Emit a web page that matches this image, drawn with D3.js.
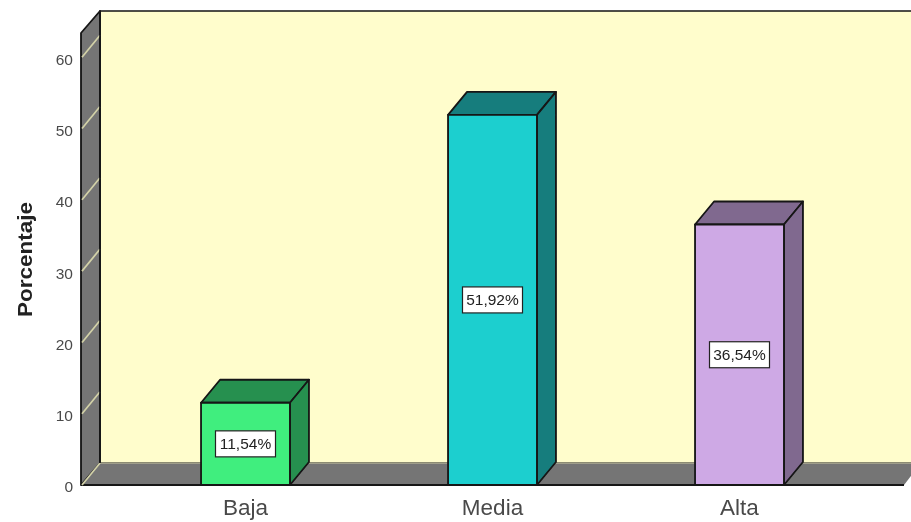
<!DOCTYPE html>
<html><head><meta charset="utf-8">
<style>html,body{margin:0;padding:0;background:#fff;overflow:hidden}svg{display:block}text{font-family:"Liberation Sans",Arial,sans-serif}</style>
<script src="https://cdn.jsdelivr.net/npm/d3@7"></script>
</head><body>
<script>
const categories = ["Baja","Media","Alta"];
const values = [11.54,51.92,36.54];
const valueLabels = ["11,54%","51,92%","36,54%"];
const frontColors = ["#40EE7E","#1BCFCF","#CEA9E5"];
const sideColors = ["#279050","#127D7D","#80698F"];
const yTicks = [0,10,20,30,40,50,60];
const yTitle = "Porcentaje";

const W=911,H=522, plotL=81, plotR=904, base=485, plotT=33, dx=19, dy=-22, barDy=-23;
const svg=d3.select("body").append("svg").attr("width",W).attr("height",H);
const f=svg.append("defs").append("filter").attr("id","soft").attr("x",0).attr("y",0).attr("width","100%").attr("height","100%");
f.append("feGaussianBlur").attr("stdDeviation",0.7);
const g=svg.append("g").attr("filter","url(#soft)");
g.append("rect").attr("width",W).attr("height",H).attr("fill","#fff");

const y=d3.scaleLinear().domain([0,63.4]).range([base,plotT]);
const x=d3.scaleBand().domain(categories).range([122,863]).paddingInner(0.64).paddingOuter(0.32);
const ink="#141414";
const poly=(pts,fill,sw=1.8)=>g.append("polygon").attr("points",pts.map(p=>p.join(",")).join(" "))
  .attr("fill",fill).attr("stroke",ink).attr("stroke-width",sw).attr("stroke-linejoin","round");

// back wall
g.append("rect").attr("x",plotL+dx).attr("y",plotT+dy).attr("width",W-plotL-dx+20).attr("height",base-plotT)
 .attr("fill","#FFFDCC").attr("stroke",ink).attr("stroke-width",1.5);
// left wall
poly([[plotL,base],[plotL,plotT],[plotL+dx,plotT+dy],[plotL+dx,base+dy]],"#757575");
// floor
g.append("polygon").attr("points",[[plotL,base],[plotL+dx,base+dy],[W+10,base+dy],[plotR,base]].map(p=>p.join(",")).join(" ")).attr("fill","#757575");
g.append("line").attr("x1",plotL).attr("x2",plotR).attr("y1",base).attr("y2",base).attr("stroke",ink).attr("stroke-width",2);
g.append("line").attr("x1",plotL+dx).attr("x2",W).attr("y1",base+dy).attr("y2",base+dy).attr("stroke","#c9c8a2").attr("stroke-width",1.2);
// grid ticks on left wall
g.selectAll("line.wt").data(yTicks).join("line").attr("class","wt")
 .attr("x1",plotL+1).attr("x2",plotL+dx).attr("y1",d=>y(d)).attr("y2",d=>y(d)+dy)
 .attr("stroke","#d3d2a8").attr("stroke-width",1.7);
g.append("line").attr("x1",plotL+dx).attr("x2",plotL+dx).attr("y1",plotT+dy).attr("y2",base+dy).attr("stroke",ink).attr("stroke-width",1.7);

// bars
categories.forEach((c,i)=>{
  const a=x(c), b=a+x.bandwidth(), t=y(values[i]);
  poly([[a,t],[a+dx,t+barDy],[b+dx,t+barDy],[b,t]],sideColors[i]);
  poly([[b,t],[b+dx,t+barDy],[b+dx,base+barDy],[b,base]],sideColors[i]);
  poly([[a,t],[b,t],[b,base],[a,base]],frontColors[i]);
  const cx=(a+b)/2, cy=(t+base)/2;
  g.append("rect").attr("x",cx-30).attr("y",cy-13).attr("width",60).attr("height",26)
    .attr("fill","#fff").attr("stroke","#222").attr("stroke-width",1.2);
  g.append("text").attr("x",cx).attr("y",cy+5.5).attr("text-anchor","middle").attr("font-size",15.5).attr("fill","#222").text(valueLabels[i]);
});

// axes
const ax=g.append("g").attr("transform",`translate(${plotL},2)`)
  .call(d3.axisLeft(y).tickValues(yTicks).tickSize(0).tickPadding(8));
ax.select(".domain").remove();
ax.selectAll("text").attr("font-size",15.5).attr("fill","#4a4a4a").style("font-family",'"Liberation Sans",Arial,sans-serif');
const bx=g.append("g").attr("transform",`translate(0,${base})`)
  .call(d3.axisBottom(x).tickSize(0).tickPadding(14));
bx.select(".domain").remove();
bx.selectAll("text").attr("font-size",22.5).attr("fill","#4a4a4a").style("font-family",'"Liberation Sans",Arial,sans-serif');
g.append("text").attr("transform","translate(32,259.5) rotate(-90)").attr("text-anchor","middle")
  .attr("font-size",21).attr("font-weight","bold").attr("fill","#222")
  .attr("textLength",115).attr("lengthAdjust","spacingAndGlyphs").text(yTitle);
</script>
</body></html>
